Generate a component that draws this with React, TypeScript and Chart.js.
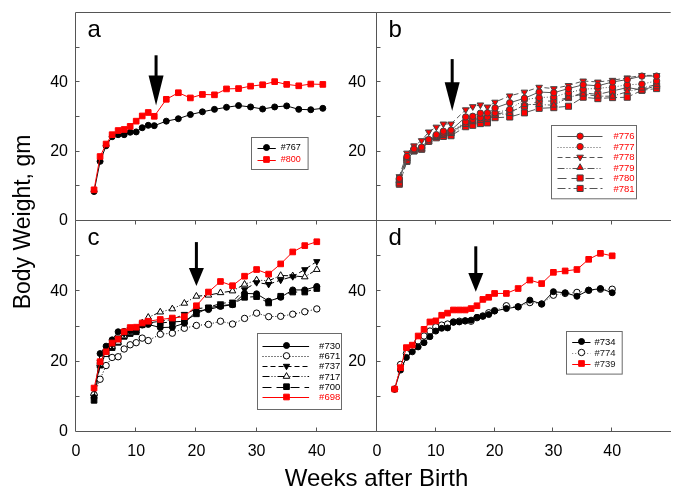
import React, { useEffect, useRef } from 'react';
import { Chart, registerables } from 'chart.js';

Chart.register(...registerables);

const FONT = 'Arial, "Liberation Sans", Helvetica, sans-serif';
const W = 676;
const H = 493;

// ---------- Panel a ----------
const weeksA = [3, 4, 5, 6, 7, 8, 9, 10, 11, 12, 13, 15, 17, 19, 21, 23, 25, 27, 29, 31, 33, 35, 37, 39, 41];
const a767 = [8.5, 17.2, 21.7, 24.3, 24.9, 24.9, 25.6, 25.7, 26.9, 27.6, 27.5, 28.8, 29.5, 30.7, 31.5, 32.2, 32.8, 33.3, 32.9, 32.3, 32.9, 33.2, 32.2, 32.1, 32.5];
const a800 = [9.0, 18.6, 22.2, 24.9, 26.1, 26.4, 27.3, 28.8, 30.3, 31.3, 30.2, 35.1, 37.0, 35.5, 36.5, 36.4, 38.1, 38.2, 38.9, 39.3, 40.2, 39.4, 39.0, 39.5, 39.4];

// ---------- Panel b ----------
const weeksB = [3.8, 5.1, 6.3, 7.6, 8.8, 10.1, 11.3, 12.6, 15.1, 16.3, 17.6, 18.8, 20.1, 22.6, 25.1, 27.6, 30.1, 32.6, 35.1, 37.6, 40.1, 42.6, 45.1, 47.6];
const b776 = [12.3, 18.6, 20.8, 21.3, 23.5, 24.9, 25.9, 26.2, 30.0, 30.2, 31.1, 31.2, 32.6, 34.1, 35.4, 37.2, 37.0, 38.2, 39.3, 39.0, 40.1, 40.8, 41.8, 41.8];
const b777 = [12.0, 18.2, 20.6, 21.0, 23.0, 24.6, 25.4, 25.8, 28.6, 29.3, 29.8, 30.0, 31.2, 32.2, 35.0, 35.6, 35.8, 37.0, 38.0, 38.3, 38.6, 39.3, 39.5, 40.4];
const b778 = [12.8, 19.6, 21.7, 23.2, 25.7, 27.1, 28.0, 28.0, 32.1, 33.0, 33.5, 32.9, 34.3, 36.1, 37.2, 38.6, 38.2, 39.1, 40.4, 40.1, 40.6, 41.3, 42.0, 42.0];
const b779 = [11.6, 18.0, 20.4, 20.9, 22.8, 24.3, 24.8, 25.2, 27.8, 28.6, 29.0, 29.2, 30.5, 31.0, 33.6, 33.6, 33.4, 35.7, 36.6, 36.0, 36.0, 37.3, 38.3, 39.4];
const b780 = [11.0, 17.5, 20.3, 20.8, 23.2, 24.4, 25.0, 25.6, 28.2, 29.0, 29.5, 29.6, 30.8, 31.5, 33.1, 34.6, 34.6, 35.6, 37.0, 36.5, 37.5, 38.5, 37.8, 39.0];
const b781 = [10.6, 17.2, 20.2, 20.7, 23.0, 24.0, 24.4, 24.6, 27.2, 27.6, 28.1, 28.3, 29.8, 30.0, 31.2, 32.5, 32.7, 33.1, 35.7, 35.3, 35.6, 35.7, 37.7, 38.2];

// ---------- Panel c ----------
const weeksC = [3, 4, 5, 6, 7, 8, 9, 10, 11, 12, 14, 16, 18, 20, 22, 24, 26, 28, 30, 32, 34, 36, 38, 40];
const c730 = [9.8, 22.3, 24.4, 26.2, 28.5, 28.6, 28.8, 29.0, 30.4, 30.6, 29.7, 29.8, 30.9, 34.4, 34.8, 35.7, 36.2, 39.4, 39.3, 37.2, 38.3, 40.4, 40.4, 41.4];
const c671 = [10.6, 15.0, 18.9, 21.2, 21.4, 23.6, 24.8, 25.4, 26.7, 26.0, 27.8, 28.1, 29.5, 30.3, 30.6, 31.5, 30.7, 32.3, 33.8, 32.8, 32.9, 33.5, 34.2, 35.0];
const c737 = [10.0, 19.8, 23.0, 24.8, 26.8, 28.0, 29.2, 29.4, 30.8, 31.0, 31.5, 32.0, 33.5, 35.0, 35.5, 36.5, 37.0, 40.5, 42.5, 42.0, 43.2, 44.2, 46.2, 48.5];
const c717 = [11.0, 19.3, 22.0, 24.3, 25.5, 27.3, 28.2, 28.8, 31.0, 32.6, 34.1, 35.0, 36.6, 38.6, 38.9, 39.6, 40.1, 42.0, 43.2, 43.0, 44.5, 44.4, 44.1, 46.2];
const c700 = [9.0, 19.0, 22.5, 24.0, 25.5, 27.2, 28.0, 28.5, 30.5, 31.0, 31.0, 31.3, 31.5, 33.6, 35.3, 35.9, 36.3, 38.3, 38.5, 36.7, 38.6, 39.8, 39.8, 40.8];
const c698 = [12.5, 20.0, 22.8, 25.3, 26.4, 28.5, 29.7, 29.8, 31.0, 31.5, 32.0, 32.4, 32.8, 35.9, 39.8, 42.8, 41.6, 44.3, 46.2, 44.9, 47.8, 51.2, 53.0, 54.1];

// ---------- Panel d ----------
const weeksD = [3, 4, 5, 6, 7, 8, 9, 10, 11, 12, 13, 14, 15, 16, 17, 18, 19, 20, 22, 24, 26, 28, 30, 32, 34, 36, 38, 40];
const d734 = [12.2, 17.6, 21.2, 22.8, 24.2, 25.4, 27.1, 28.7, 29.5, 29.6, 31.2, 31.3, 31.6, 31.8, 32.6, 32.9, 33.4, 34.4, 35.1, 35.6, 37.5, 36.4, 39.9, 39.6, 38.6, 40.3, 40.8, 39.6];
const d774 = [12.2, 19.2, 22.3, 23.8, 25.9, 27.3, 28.7, 29.9, 30.4, 30.7, 31.3, 31.5, 31.6, 31.5, 32.5, 33.0, 33.9, 34.5, 35.9, 35.6, 36.8, 36.4, 38.9, 39.4, 39.7, 40.3, 40.6, 40.6];
const d739 = [12.2, 18.3, 24.0, 24.7, 27.3, 29.2, 31.3, 31.6, 33.2, 33.8, 34.7, 34.7, 34.7, 35.1, 35.9, 37.7, 38.3, 39.4, 39.4, 40.8, 43.2, 42.2, 45.4, 45.8, 46.2, 49.1, 50.8, 50.1];

// tick labels
const xTickLabels = [0, 10, 20, 30, 40];
const yTickLabelsLeft = [0, 20, 40];
const yTickLabelsRight = [20, 40];

// ---------- styles ----------
const SOLID: number[] = [];
const DOT = [1, 2];
const SHORT = [5, 3];
const DASHDOTDOT = [7, 2, 1, 2, 1, 2];
const LONG = [9, 5];
const DASHDOT = [8, 3, 2, 3];
const RED = '#ff0000';

type St = {
  line: string; dash: number[]; shape: string; rot?: number; r: number;
  fill: string; stroke: string; text: string; order?: number;
};

function series(label: string, xs: number[], ys: number[], st: St) {
  return {
    label,
    data: xs.map((x, i) => ({ x, y: ys[i] })),
    borderColor: st.line,
    borderDash: st.dash,
    borderWidth: 1,
    tension: 0,
    fill: false,
    pointStyle: st.shape,
    pointRotation: st.rot || 0,
    pointRadius: st.r,
    pointBackgroundColor: st.fill,
    pointBorderColor: st.stroke,
    pointBorderWidth: 1,
    order: st.order ?? 1,
    legendColor: st.text,
    legendDash: st.dash,
    legendShape: st.shape,
    legendRot: st.rot || 0,
    legendR: st.r,
    legendFill: st.fill,
    legendStroke: st.stroke,
    legendLine: st.line,
  };
}

function drawMarker(ctx: CanvasRenderingContext2D, shape: string, rot: number, x: number, y: number, r: number) {
  ctx.beginPath();
  if (shape === 'circle') {
    ctx.arc(x, y, r, 0, Math.PI * 2);
  } else if (shape === 'triangle') {
    let rad = (rot * Math.PI) / 180;
    ctx.moveTo(x + Math.sin(rad) * r, y - Math.cos(rad) * r);
    rad += (2 * Math.PI) / 3;
    ctx.lineTo(x + Math.sin(rad) * r, y - Math.cos(rad) * r);
    rad += (2 * Math.PI) / 3;
    ctx.lineTo(x + Math.sin(rad) * r, y - Math.cos(rad) * r);
    ctx.closePath();
  } else {
    const s = Math.SQRT1_2 * r;
    ctx.rect(x - s, y - s, 2 * s, 2 * s);
  }
}

const decorPlugin = {
  id: 'decor',
  beforeDatasetsDraw(chart: any, _args: any, opts: any) {
    const { ctx, chartArea: ca, scales } = chart;
    const x = scales.x, y = scales.y;
    ctx.save();
    ctx.strokeStyle = '#555';
    ctx.lineWidth = 1;
    ctx.beginPath();
    const L = Math.round(ca.left) - 0.5, T = Math.round(ca.top) - 0.5;
    const B = Math.round(ca.bottom) - 0.5, R = Math.round(ca.right) - 0.5;
    ctx.moveTo(L, T); ctx.lineTo(L, B);
    ctx.moveTo(L, T); ctx.lineTo(opts.rightBorder ? R : ca.right, T);
    ctx.moveTo(L, B); ctx.lineTo(opts.rightBorder ? R : ca.right, B);
    if (opts.rightBorder) { ctx.moveTo(R, T); ctx.lineTo(R, B); }
    // inward ticks on left axis
    for (let v = 10; v <= 50; v += 10) {
      const py = Math.round(y.getPixelForValue(v)) - 0.5;
      ctx.moveTo(L, py); ctx.lineTo(L + 4, py);
    }
    for (let v = 10; v <= 40; v += 10) {
      const px = Math.round(x.getPixelForValue(v)) - 0.5;
      ctx.moveTo(px, B); ctx.lineTo(px, B + opts.xTickDir * 4);
    }
    ctx.stroke();
    ctx.restore();
  },
  afterDatasetsDraw(chart: any, _args: any, opts: any) {
    const { ctx, chartArea: ca, scales } = chart;
    const x = scales.x, y = scales.y;
    ctx.save();
    // panel letter
    ctx.fillStyle = '#000';
    ctx.font = `24px ${FONT}`;
    ctx.textBaseline = 'alphabetic';
    ctx.textAlign = 'left';
    ctx.fillText(opts.letter, ca.left + 11.5, ca.top + 24);
    // arrow
    const ar = opts.arrow;
    const ax = x.getPixelForValue(ar.x);
    const top = y.getPixelForValue(ar.top);
    const base = y.getPixelForValue(ar.base);
    const tip = y.getPixelForValue(ar.tip);
    ctx.fillRect(ax - 1.5, top, 3, base - top + 1);
    ctx.beginPath();
    ctx.moveTo(ax - 7.5, base);
    ctx.lineTo(ax + 7.5, base);
    ctx.lineTo(ax, tip);
    ctx.closePath();
    ctx.fill();
    // legend
    const lg = opts.legend;
    const bx = Math.round(ca.left + lg.x) + 0.5;
    const by = Math.round(ca.top + lg.y) + 0.5;
    ctx.fillStyle = '#fff';
    ctx.fillRect(bx, by, lg.w, lg.h);
    ctx.strokeStyle = '#6a6a6a';
    ctx.lineWidth = 1;
    ctx.strokeRect(bx, by, lg.w, lg.h);
    ctx.font = `${lg.font}px ${FONT}`;
    ctx.textBaseline = 'middle';
    chart.data.datasets.forEach((ds: any, i: number) => {
      const ry = by + lg.first + i * lg.step;
      ctx.save();
      ctx.strokeStyle = ds.legendLine;
      ctx.setLineDash(ds.legendDash);
      ctx.beginPath();
      ctx.moveTo(bx + lg.line[0], Math.round(ry) + 0.5);
      ctx.lineTo(bx + lg.line[1], Math.round(ry) + 0.5);
      ctx.stroke();
      ctx.setLineDash([]);
      drawMarker(ctx, ds.legendShape, ds.legendRot, bx + lg.marker, ry, ds.legendR);
      ctx.fillStyle = ds.legendFill;
      ctx.fill();
      ctx.strokeStyle = ds.legendStroke;
      ctx.stroke();
      ctx.restore();
      ctx.fillStyle = ds.legendColor;
      ctx.fillText(ds.label, bx + lg.text, ry + 0.5);
    });
    ctx.restore();
  },
};

// ---------- panels ----------
const blackCircle: St = { line: '#000', dash: SOLID, shape: 'circle', r: 3, fill: '#000', stroke: '#000', text: '#000' };
const redSquare: St = { line: RED, dash: SOLID, shape: 'rect', r: 4, fill: RED, stroke: RED, text: RED, order: 0 };
const GRAYLINE = '#555';
const BSTROKE = '#444';

function makePanels() {
  return [
    {
      rect: { l: 76, t: 13, r: 377, b: 221 },
      showX: false,
      yLabels: yTickLabelsLeft,
      yPad: 8,
      datasets: [
        series('#767', weeksA, a767, blackCircle),
        series('#800', weeksA, a800, redSquare),
      ],
      decor: {
        letter: 'a', rightBorder: true, xTickDir: 1,
        arrow: { x: 13.3, top: 47.8, base: 42, tip: 33.3 },
        legend: { x: 174.7, y: 124.3, w: 56.6, h: 32, first: 10, step: 12, line: [6, 24.3], marker: 15, text: 29.3, font: 9 },
      },
    },
    {
      rect: { l: 377, t: 13, r: 676, b: 221 },
      showX: false,
      yLabels: yTickLabelsRight,
      yPad: 11,
      datasets: [
        series('#776', weeksB, b776, { line: GRAYLINE, dash: SOLID, shape: 'circle', r: 3.2, fill: RED, stroke: BSTROKE, text: RED }),
        series('#777', weeksB, b777, { line: GRAYLINE, dash: DOT, shape: 'circle', r: 3.2, fill: RED, stroke: BSTROKE, text: RED }),
        series('#778', weeksB, b778, { line: GRAYLINE, dash: SHORT, shape: 'triangle', rot: 180, r: 3.8, fill: RED, stroke: BSTROKE, text: RED }),
        series('#779', weeksB, b779, { line: GRAYLINE, dash: DASHDOTDOT, shape: 'triangle', r: 3.8, fill: RED, stroke: BSTROKE, text: RED }),
        series('#780', weeksB, b780, { line: GRAYLINE, dash: LONG, shape: 'rect', r: 4.3, fill: RED, stroke: BSTROKE, text: RED }),
        series('#781', weeksB, b781, { line: GRAYLINE, dash: DASHDOT, shape: 'rect', r: 4.3, fill: RED, stroke: BSTROKE, text: RED }),
      ],
      decor: {
        letter: 'b', rightBorder: false, xTickDir: 1,
        arrow: { x: 12.8, top: 46.7, base: 40, tip: 31.7 },
        legend: { x: 173.7, y: 112, w: 85, h: 73.3, first: 10.7, step: 10.45, line: [6, 51], marker: 28.6, text: 62, font: 9.5 },
      },
    },
    {
      rect: { l: 76, t: 221, r: 377, b: 432 },
      showX: true,
      yLabels: yTickLabelsLeft,
      yPad: 8,
      datasets: [
        series('#730', weeksC, c730, blackCircle),
        series('#671', weeksC, c671, { line: '#000', dash: DOT, shape: 'circle', r: 3.2, fill: '#fff', stroke: '#000', text: '#000' }),
        series('#737', weeksC, c737, { line: '#000', dash: SHORT, shape: 'triangle', rot: 180, r: 3.6, fill: '#000', stroke: '#000', text: '#000' }),
        series('#717', weeksC, c717, { line: '#000', dash: DASHDOTDOT, shape: 'triangle', r: 3.8, fill: '#fff', stroke: '#000', text: '#000' }),
        series('#700', weeksC, c700, { line: '#000', dash: LONG, shape: 'rect', r: 4, fill: '#000', stroke: '#000', text: '#000' }),
        series('#698', weeksC, c698, redSquare),
      ],
      decor: {
        letter: 'c', rightBorder: true, xTickDir: -1,
        arrow: { x: 20, top: 54, base: 46.6, tip: 41.5 },
        legend: { x: 180.7, y: 112.3, w: 84, h: 76, first: 12, step: 10.3, line: [5, 51.6], marker: 29, text: 61.6, font: 9.5 },
      },
    },
    {
      rect: { l: 377, t: 221, r: 676, b: 432 },
      showX: true,
      yLabels: yTickLabelsRight,
      yPad: 11,
      datasets: [
        series('#734', weeksD, d734, blackCircle),
        series('#774', weeksD, d774, { line: '#777', dash: DOT, shape: 'circle', r: 3.2, fill: '#fff', stroke: '#000', text: '#222' }),
        series('#739', weeksD, d739, { ...redSquare, text: '#222' }),
      ],
      decor: {
        letter: 'd', rightBorder: false, xTickDir: -1,
        arrow: { x: 16.8, top: 52.8, base: 45.2, tip: 39.9 },
        legend: { x: 189, y: 109.7, w: 55.7, h: 42.6, first: 10, step: 11, line: [5.7, 24], marker: 15, text: 28, font: 9.5 },
      },
    },
  ];
}

function makeConfig(p: any): any {
  const Y_W = 40;
  const X_H = 30;
  return {
    type: 'line',
    data: { datasets: p.datasets },
    options: {
      responsive: false,
      maintainAspectRatio: false,
      animation: false,
      events: [],
      layout: {
        padding: { left: p.rect.l - Y_W, top: p.rect.t, right: W - p.rect.r, bottom: H - p.rect.b - X_H },
      },
      plugins: {
        legend: { display: false },
        tooltip: { enabled: false },
        decor: p.decor,
      },
      scales: {
        x: {
          type: 'linear',
          min: 0,
          max: 50,
          afterFit: (s: any) => { s.height = X_H; s.paddingLeft = 0; s.paddingRight = 0; },
          grid: { display: false, drawTicks: false },
          border: { display: false },
          ticks: {
            stepSize: 10,
            autoSkip: false,
            maxRotation: 0,
            color: '#000',
            padding: 10,
            font: { size: 16, family: FONT },
            callback: (v: number) => (p.showX && xTickLabels.includes(v) ? String(v) : null),
          },
        },
        y: {
          type: 'linear',
          min: 0,
          max: 60,
          afterFit: (s: any) => { s.width = Y_W; s.paddingTop = 0; s.paddingBottom = 0; },
          grid: { display: false, drawTicks: false },
          border: { display: false },
          ticks: {
            stepSize: 20,
            autoSkip: false,
            color: '#000',
            padding: p.yPad,
            font: { size: 16, family: FONT },
            callback: (v: number) => (p.yLabels.includes(v) ? String(v) : null),
          },
        },
      },
    },
    plugins: [decorPlugin],
  };
}

export default function App() {
  const r0 = useRef<HTMLCanvasElement>(null);
  const r1 = useRef<HTMLCanvasElement>(null);
  const r2 = useRef<HTMLCanvasElement>(null);
  const r3 = useRef<HTMLCanvasElement>(null);

  useEffect(() => {
    document.body.style.margin = '0';
    const refs = [r0, r1, r2, r3];
    const panels = makePanels();
    const charts = panels.map((p, i) => new Chart(refs[i].current as HTMLCanvasElement, makeConfig(p)));
    return () => charts.forEach((c) => c.destroy());
  }, []);

  const cv: React.CSSProperties = { position: 'absolute', left: 0, top: 0, width: W, height: H };
  return (
    <div style={{ position: 'fixed', left: 0, top: 0, width: W, height: H, background: '#fff', overflow: 'hidden', fontFamily: FONT }}>
      <canvas ref={r0} width={W} height={H} style={cv} />
      <canvas ref={r1} width={W} height={H} style={cv} />
      <canvas ref={r2} width={W} height={H} style={cv} />
      <canvas ref={r3} width={W} height={H} style={cv} />
      <div style={{ position: 'absolute', left: 76, width: 601, top: 465, textAlign: 'center', fontSize: 24, lineHeight: '26px', color: '#000' }}>
        Weeks after Birth
      </div>
      <div style={{ position: 'absolute', left: 22 - 150, top: 222 - 13, width: 300, height: 26, textAlign: 'center', fontSize: 23, lineHeight: '26px', color: '#000', transform: 'rotate(-90deg)', whiteSpace: 'nowrap' }}>
        Body Weight, gm
      </div>
    </div>
  );
}
